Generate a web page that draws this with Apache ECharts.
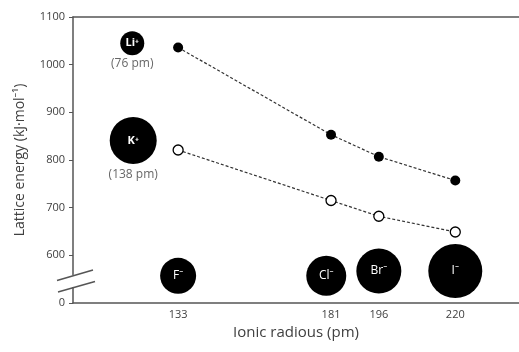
<!DOCTYPE html>
<html>
<head>
<meta charset="utf-8">
<script src="https://cdn.jsdelivr.net/npm/echarts@6/dist/echarts.min.js"></script>
<style>
  html, body { margin: 0; padding: 0; background: #fff; }
  #chart { width: 519px; height: 352px; }
</style>
</head>
<body>
<div id="chart"></div>
<script>
// anion radii (pm) used as x positions
var anionRadii = [133, 181, 196, 220];
var anionNames = ['F', 'Cl', 'Br', 'I'];
var anionSizes = [36, 40, 45, 54];
var anionY = [557, 557, 567, 567];

// lattice energies (kJ/mol)
var liEnergy = [1036, 853, 807, 757];
var kEnergy = [821, 715, 682, 649];

// cations drawn as legend-like circles
var cationNames = ['Li', 'K'];
var cationRadii = ['76 pm', '138 pm'];
var cationX = [118.6, 118.9];
var cationY = [1045, 841];
var cationSizes = [24, 47];

var yTicks = [500, 600, 700, 800, 900, 1000, 1100];
var xLabels = [133, 181, 196, 220];

var FONT = "'Open Sans', 'Noto Sans', sans-serif";
var TEXT = '#404040';

var chart = echarts.init(document.getElementById('chart'), null, { renderer: 'canvas' });

var pair = function (xs, ys) {
    return xs.map(function (x, i) { return [x, ys[i]]; });
};

var option = {
    animation: false,
    grid: { left: 73, right: -5, top: 17, bottom: 49 },
    xAxis: [
        {
            type: 'value',
            min: 100,
            max: 240,
            name: 'Ionic radious (pm)',
            nameLocation: 'middle',
            nameGap: 21,
            nameTextStyle: { fontFamily: FONT, fontSize: 15, color: TEXT },
            axisLine: { lineStyle: { color: '#555', width: 1.5 } },
            axisTick: { show: false },
            splitLine: { show: false },
            axisLabel: {
                customValues: xLabels,
                margin: 6,
                fontFamily: FONT, fontSize: 11, color: TEXT
            }
        },
        {
            type: 'value',
            min: 100,
            max: 240,
            position: 'top',
            axisLine: { show: true, lineStyle: { color: '#555', width: 1.5 } },
            axisTick: { show: false },
            axisLabel: { show: false },
            splitLine: { show: false }
        }
    ],
    yAxis: {
        type: 'value',
        min: 500,
        max: 1100,
        interval: 100,
        name: 'Lattice energy (kJ·mol⁻¹)',
        nameLocation: 'middle',
        nameGap: 46,
        nameTextStyle: { fontFamily: FONT, fontSize: 14, color: TEXT },
        axisLine: { show: true, lineStyle: { color: '#555', width: 1.5 } },
        axisTick: { show: true, length: 4, lineStyle: { color: '#555' } },
        splitLine: { show: false },
        axisLabel: {
            margin: 8,
            fontFamily: FONT, fontSize: 11, color: TEXT,
            formatter: function (v) { return v === yTicks[0] ? '0' : String(v); }
        }
    },
    series: [
        {
            name: 'Li',
            type: 'line',
            data: pair(anionRadii, liEnergy),
            symbol: 'circle',
            symbolSize: 10,
            itemStyle: { color: '#000' },
            lineStyle: { color: '#333', width: 1.2, type: [3, 2] },
            z: 5
        },
        {
            name: 'K',
            type: 'line',
            data: pair(anionRadii, kEnergy),
            symbol: 'circle',
            symbolSize: 10,
            itemStyle: { color: '#fff', borderColor: '#000', borderWidth: 1.3 },
            lineStyle: { color: '#333', width: 1.2, type: [3, 2] },
            z: 5
        },
        {
            name: 'anions',
            type: 'scatter',
            data: anionRadii.map(function (r, i) {
                return { value: [i === 1 ? r - 1.5 : r, anionY[i]], name: anionNames[i], symbolSize: anionSizes[i] };
            }),
            itemStyle: { color: '#000', opacity: 1 },
            label: {
                show: true,
                position: 'inside',
                formatter: function (p) { return p.name + '⁻'; },
                fontFamily: FONT, fontSize: 12, color: '#fff'
            }
        },
        {
            name: 'cations',
            type: 'scatter',
            data: cationX.map(function (x, i) {
                return { value: [x, cationY[i]], name: cationNames[i], symbolSize: cationSizes[i] };
            }),
            itemStyle: { color: '#000', opacity: 1 },
            label: {
                show: true,
                position: 'inside',
                formatter: function (p) { return p.name + '⁺'; },
                fontFamily: FONT, fontSize: 11, fontWeight: 'bold', color: '#fff'
            }
        },
        {
            name: 'cationRadii',
            type: 'scatter',
            data: cationX.map(function (x, i) {
                return {
                    value: [x, cationY[i]], name: cationRadii[i], symbolSize: cationSizes[i],
                    label: { distance: i === 0 ? 2 : 5 }
                };
            }),
            itemStyle: { color: 'rgba(0,0,0,0)' },
            label: {
                show: true,
                position: 'bottom',
                formatter: function (p) { return '(' + p.name + ')'; },
                fontFamily: FONT, fontSize: 12, color: TEXT
            },
            z: 1
        }
    ]
};

chart.setOption(option);

// axis break marks
var mid = chart.convertToPixel({ gridIndex: 0 }, [100, 545]);
var ax = mid[0], ay = mid[1];
chart.setOption({
    graphic: [
        {
            type: 'polygon',
            shape: { points: [[ax - 3, ay - 6], [ax + 3, ay - 7], [ax + 3, ay + 5], [ax - 3, ay + 6]] },
            style: { fill: '#fff' },
            z: 100
        },
        {
            type: 'line',
            shape: { x1: ax - 16, y1: ay - 1, x2: ax + 20, y2: ay - 11.5 },
            style: { stroke: '#555', lineWidth: 1.5 },
            z: 101
        },
        {
            type: 'line',
            shape: { x1: ax - 15, y1: ay + 10.5, x2: ax + 22, y2: ay },
            style: { stroke: '#555', lineWidth: 1.5 },
            z: 101
        }
    ]
});
</script>
</body>
</html>
